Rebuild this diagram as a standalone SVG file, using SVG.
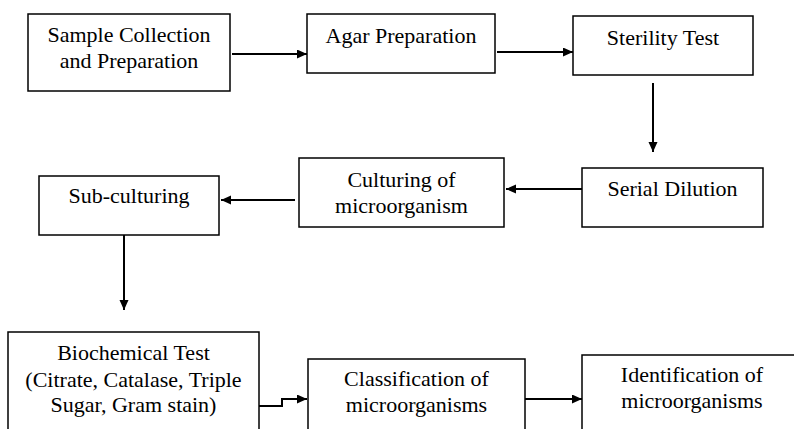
<svg xmlns="http://www.w3.org/2000/svg" width="794" height="429" viewBox="0 0 794 429">
<style>
.box{fill:#fff;stroke:#000;stroke-width:1.5}
.t{font-family:"Liberation Serif","Times New Roman",serif;font-size:22px;fill:#000;text-anchor:middle}
.c{fill:none;stroke:#000;stroke-width:2}
</style>
<defs>
<marker id="ah" markerUnits="userSpaceOnUse" markerWidth="11" markerHeight="10" refX="10" refY="4.5" orient="auto">
<path d="M0,0 L10,4.5 L0,9 z" fill="#000"/>
</marker>
</defs>
<rect width="794" height="429" fill="#fff"/>
<g id="n1"><rect class="box" x="28" y="14" width="202" height="77"/><text class="t" x="129" y="42">Sample Collection</text><text class="t" x="129" y="68">and Preparation</text></g>
<g id="n2"><rect class="box" x="307" y="14" width="188" height="59"/><text class="t" x="401" y="43">Agar Preparation</text></g>
<g id="n3"><rect class="box" x="573" y="16" width="180" height="59"/><text class="t" x="663" y="45">Sterility Test</text></g>
<g id="n4"><rect class="box" x="582" y="168" width="181" height="59"/><text class="t" x="672.5" y="196">Serial Dilution</text></g>
<g id="n5"><rect class="box" x="299" y="158" width="205" height="69"/><text class="t" x="401.5" y="187">Culturing of</text><text class="t" x="401.5" y="213">microorganism</text></g>
<g id="n6"><rect class="box" x="39" y="176" width="180" height="59"/><text class="t" x="129" y="203">Sub-culturing</text></g>
<g id="n7"><rect class="box" x="8" y="332" width="251" height="110"/><text class="t" x="133.5" y="360">Biochemical Test</text><text class="t" x="133.5" y="387">(Citrate, Catalase, Triple</text><text class="t" x="133.5" y="412">Sugar, Gram stain)</text></g>
<g id="n8"><rect class="box" x="308" y="359" width="217" height="90"/><text class="t" x="416.5" y="386">Classification of</text><text class="t" x="416.5" y="412">microorganisms</text></g>
<g id="n9"><rect class="box" x="582" y="355" width="220" height="90"/><text class="t" x="692" y="382">Identification of</text><text class="t" x="692" y="408">microorganisms</text></g>
<g id="connectors">
<line class="c" x1="232" y1="54" x2="307" y2="54" marker-end="url(#ah)"/>
<line class="c" x1="497" y1="52" x2="573" y2="52" marker-end="url(#ah)"/>
<line class="c" x1="653" y1="83" x2="653" y2="152" marker-end="url(#ah)"/>
<line class="c" x1="582" y1="189" x2="506" y2="189" marker-end="url(#ah)"/>
<line class="c" x1="295" y1="200" x2="221" y2="200" marker-end="url(#ah)"/>
<line class="c" x1="124" y1="235" x2="124" y2="310" marker-end="url(#ah)"/>
<polyline class="c" points="259,406 282,406 282,399 307,399" marker-end="url(#ah)"/>
<line class="c" x1="525" y1="399" x2="582" y2="399" marker-end="url(#ah)"/>
</g>
</svg>
